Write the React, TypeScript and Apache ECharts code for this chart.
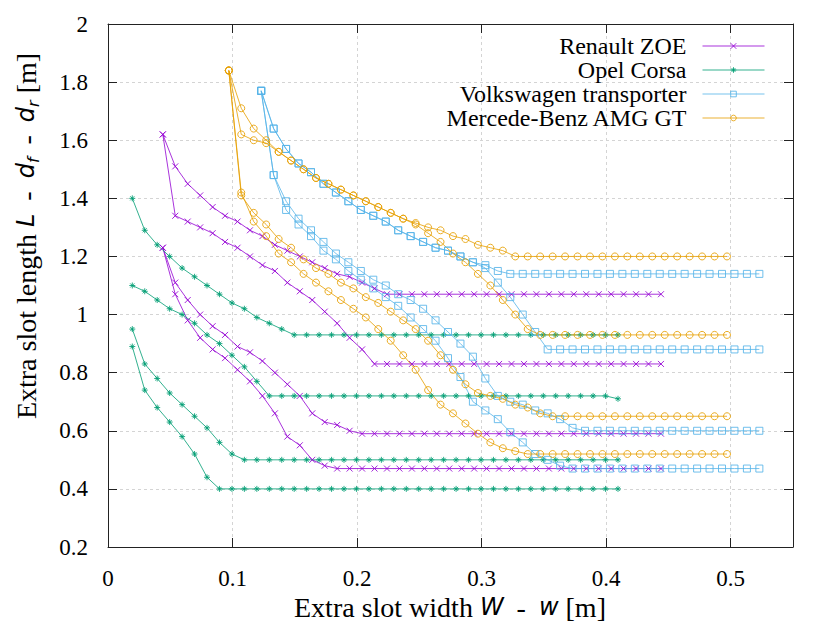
import React, { useEffect, useRef } from 'react';
import * as echarts from 'echarts';

// x grid: each curve starts at x0 and advances in steps of 0.01 m
const STEP = 0.01;
const renaultX0 = 0.044;
const opelX0 = 0.0195;
const vwX0 = 0.123;
const mercX0 = 0.097;

const names = ['Renault ZOE', 'Opel Corsa', 'Volkswagen transporter', 'Mercede-Benz AMG GT'];
const colors = ['#9400d3', '#009e73', '#56b4e9', '#e69f00'];

const xTicks = [0, 0.1, 0.2, 0.3, 0.4, 0.5];
const xTickLabels = ['0', '0.1', '0.2', '0.3', '0.4', '0.5'];
const yTicks = [0.2, 0.4, 0.6, 0.8, 1, 1.2, 1.4, 1.6, 1.8, 2];
const yTickLabels = ['0.2', '0.4', '0.6', '0.8', '1', '1.2', '1.4', '1.6', '1.8', '2'];

// Renault ZOE
const renault1 = [
  1.62, 1.51, 1.45, 1.41, 1.37, 1.34, 1.32, 1.29, 1.27, 1.24,
  1.22, 1.20, 1.18, 1.16, 1.14, 1.13, 1.11, 1.09, 1.07, 1.07,
  1.07, 1.07, 1.07, 1.07, 1.07, 1.07, 1.07, 1.07, 1.07, 1.07,
  1.07, 1.07, 1.07, 1.07, 1.07, 1.07, 1.07, 1.07, 1.07, 1.07,
  1.07,
];
const renault2 = [
  1.62, 1.34, 1.32, 1.30, 1.28, 1.25, 1.23, 1.20, 1.17, 1.15,
  1.11, 1.08, 1.05, 1.01, 0.97, 0.92, 0.88, 0.83, 0.83, 0.83,
  0.83, 0.83, 0.83, 0.83, 0.83, 0.83, 0.83, 0.83, 0.83, 0.83,
  0.83, 0.83, 0.83, 0.83, 0.83, 0.83, 0.83, 0.83, 0.83, 0.83,
  0.83,
];
const renault3 = [
  1.23, 1.11, 1.05, 1.00, 0.96, 0.93, 0.89, 0.87, 0.84, 0.80,
  0.76, 0.72, 0.66, 0.63, 0.62, 0.60, 0.59, 0.59, 0.59, 0.59,
  0.59, 0.59, 0.59, 0.59, 0.59, 0.59, 0.59, 0.59, 0.59, 0.59,
  0.59, 0.59, 0.59, 0.59, 0.59, 0.59, 0.59, 0.59, 0.59, 0.59,
  0.59,
];
const renault4 = [
  1.23, 1.07, 0.98, 0.92, 0.88, 0.85, 0.81, 0.77, 0.72, 0.66,
  0.58, 0.55, 0.50, 0.48, 0.47, 0.47, 0.47, 0.47, 0.47, 0.47,
  0.47, 0.47, 0.47, 0.47, 0.47, 0.47, 0.47, 0.47, 0.47, 0.47,
  0.47, 0.47, 0.47, 0.47, 0.47, 0.47, 0.47, 0.47, 0.47, 0.47,
  0.47,
];

// Opel Corsa
const opel1 = [
  1.40, 1.29, 1.24, 1.20, 1.16, 1.13, 1.10, 1.07, 1.04, 1.02,
  0.99, 0.97, 0.95, 0.93, 0.93, 0.93, 0.93, 0.93, 0.93, 0.93,
  0.93, 0.93, 0.93, 0.93, 0.93, 0.93, 0.93, 0.93, 0.93, 0.93,
  0.93, 0.93, 0.93, 0.93, 0.93, 0.93, 0.93, 0.93, 0.93, 0.93,
];
const opel2 = [
  1.10, 1.08, 1.05, 1.02, 1.00, 0.97, 0.93, 0.90, 0.86, 0.82,
  0.77, 0.72, 0.72, 0.72, 0.72, 0.72, 0.72, 0.72, 0.72, 0.72,
  0.72, 0.72, 0.72, 0.72, 0.72, 0.72, 0.72, 0.72, 0.72, 0.72,
  0.72, 0.72, 0.72, 0.72, 0.72, 0.72, 0.72, 0.72, 0.72, 0.71,
];
const opel3 = [
  0.95, 0.83, 0.78, 0.73, 0.69, 0.65, 0.61, 0.56, 0.52, 0.50,
  0.50, 0.50, 0.50, 0.50, 0.50, 0.50, 0.50, 0.50, 0.50, 0.50,
  0.50, 0.50, 0.50, 0.50, 0.50, 0.50, 0.50, 0.50, 0.50, 0.50,
  0.50, 0.50, 0.50, 0.50, 0.50, 0.50, 0.50, 0.50, 0.50, 0.50,
];
const opel4 = [
  0.89, 0.74, 0.68, 0.63, 0.58, 0.52, 0.44, 0.40, 0.40, 0.40,
  0.40, 0.40, 0.40, 0.40, 0.40, 0.40, 0.40, 0.40, 0.40, 0.40,
  0.40, 0.40, 0.40, 0.40, 0.40, 0.40, 0.40, 0.40, 0.40, 0.40,
  0.40, 0.40, 0.40, 0.40, 0.40, 0.40, 0.40, 0.40, 0.40, 0.40,
];

// Volkswagen transporter
const vw1 = [
  1.77, 1.64, 1.57, 1.52, 1.49, 1.45, 1.42, 1.39, 1.36, 1.34,
  1.32, 1.29, 1.27, 1.25, 1.23, 1.22, 1.20, 1.18, 1.17, 1.15,
  1.14, 1.14, 1.14, 1.14, 1.14, 1.14, 1.14, 1.14, 1.14, 1.14,
  1.14, 1.14, 1.14, 1.14, 1.14, 1.14, 1.14, 1.14, 1.14, 1.14,
  1.14,
];
const vw2 = [
  1.77, 1.64, 1.57, 1.52, 1.49, 1.45, 1.42, 1.39, 1.36, 1.34,
  1.32, 1.29, 1.27, 1.25, 1.23, 1.22, 1.20, 1.18, 1.16, 1.11,
  1.06, 1.00, 0.94, 0.88, 0.88, 0.88, 0.88, 0.88, 0.88, 0.88,
  0.88, 0.88, 0.88, 0.88, 0.88, 0.88, 0.88, 0.88, 0.88, 0.88,
  0.88,
];
const vw3 = [
  1.77, 1.48, 1.39, 1.33, 1.29, 1.25, 1.21, 1.18, 1.15, 1.12,
  1.10, 1.07, 1.05, 1.02, 0.98, 0.94, 0.90, 0.855, 0.78, 0.72,
  0.70, 0.69, 0.67, 0.66, 0.64, 0.61, 0.60, 0.60, 0.60, 0.60,
  0.60, 0.60, 0.60, 0.60, 0.60, 0.60, 0.60, 0.60, 0.60, 0.60,
  0.60,
];
const vw4 = [
  1.77, 1.48, 1.36, 1.31, 1.27, 1.22, 1.19, 1.15, 1.12, 1.09,
  1.06, 1.03, 0.99, 0.95, 0.91, 0.85, 0.785, 0.70, 0.67, 0.64,
  0.595, 0.56, 0.52, 0.50, 0.48, 0.47, 0.47, 0.47, 0.47, 0.47,
  0.47, 0.47, 0.47, 0.47, 0.47, 0.47, 0.47, 0.47, 0.47, 0.47,
  0.47,
];

// Mercede-Benz AMG GT
const merc1 = [
  1.84, 1.71, 1.64, 1.60, 1.56, 1.53, 1.50, 1.47, 1.45, 1.43,
  1.41, 1.39, 1.37, 1.35, 1.33, 1.315, 1.30, 1.29, 1.27, 1.26,
  1.24, 1.23, 1.22, 1.20, 1.20, 1.20, 1.20, 1.20, 1.20, 1.20,
  1.20, 1.20, 1.20, 1.20, 1.20, 1.20, 1.20, 1.20, 1.20, 1.20,
  1.20,
];
const merc2 = [
  1.84, 1.62, 1.60, 1.59, 1.56, 1.53, 1.50, 1.47, 1.45, 1.43,
  1.41, 1.39, 1.37, 1.35, 1.33, 1.31, 1.28, 1.25, 1.21, 1.18,
  1.14, 1.10, 1.05, 1.00, 0.95, 0.93, 0.93, 0.93, 0.93, 0.93,
  0.93, 0.93, 0.93, 0.93, 0.93, 0.93, 0.93, 0.93, 0.93, 0.93,
  0.93,
];
const merc3 = [
  1.84, 1.41, 1.35, 1.31, 1.26, 1.23, 1.19, 1.16, 1.14, 1.11,
  1.09, 1.06, 1.04, 1.01, 0.98, 0.95, 0.91, 0.86, 0.81, 0.76,
  0.73, 0.72, 0.71, 0.69, 0.68, 0.66, 0.65, 0.65, 0.65, 0.65,
  0.65, 0.65, 0.65, 0.65, 0.65, 0.65, 0.65, 0.65, 0.65, 0.65,
  0.65,
];
const merc4 = [
  1.84, 1.42, 1.32, 1.27, 1.21, 1.18, 1.14, 1.11, 1.08, 1.05,
  1.02, 0.99, 0.95, 0.91, 0.86, 0.81, 0.74, 0.69, 0.66, 0.625,
  0.59, 0.56, 0.54, 0.53, 0.52, 0.52, 0.52, 0.52, 0.52, 0.52,
  0.52, 0.52, 0.52, 0.52, 0.52, 0.52, 0.52, 0.52, 0.52, 0.52,
  0.52,
];

const crossSym = 'path://M0,0L10,10M10,0L0,10';
const starSym = 'path://M5,0L5,10M0,5L10,5M1.6,1.6L8.4,8.4M8.4,1.6L1.6,8.4';

const cars = [
  { name: names[0], color: colors[0], symbol: crossSym, size: 6, x0: renaultX0, curves: [renault1, renault2, renault3, renault4] },
  { name: names[1], color: colors[1], symbol: starSym, size: 6, x0: opelX0, curves: [opel1, opel2, opel3, opel4] },
  { name: names[2], color: colors[2], symbol: 'rect', size: 7, x0: vwX0, curves: [vw1, vw2, vw3, vw4] },
  { name: names[3], color: colors[3], symbol: 'circle', size: 7, x0: mercX0, curves: [merc1, merc2, merc3, merc4] },
];

const SERIF = 'Liberation Serif';
const MATH = 'DejaVu Sans';

export default function App() {
  const ref = useRef<HTMLDivElement>(null);
  useEffect(() => {
    if (!ref.current) return;
    const chart = echarts.init(ref.current, undefined, { renderer: 'svg' });

    const series: any[] = [];
    cars.forEach((car) => {
      const open = car.symbol === 'rect' || car.symbol === 'circle';
      car.curves.forEach((ys) => {
        series.push({
          type: 'line',
          name: car.name,
          data: ys.map((y, i) => [Number((car.x0 + STEP * i).toFixed(4)), y]),
          symbol: car.symbol,
          symbolSize: car.size,
          showSymbol: true,
          lineStyle: { color: car.color, width: 1, opacity: 0.8 },
          itemStyle: {
            color: open ? 'rgba(255,255,255,0)' : car.color,
            borderColor: car.color,
            borderWidth: 1,
            opacity: 0.85,
          },
          emphasis: { disabled: true },
          silent: true,
          z: 3,
        });
      });
    });

    const axisLine = { show: true, onZero: false, lineStyle: { color: '#222', width: 1 } };
    const tick = { show: true, inside: true, length: 9, lineStyle: { color: '#222', width: 1 } };
    const split = { show: true, lineStyle: { color: '#d4d4d4', width: 1, type: [3, 3] } };

    const serifTok = { fontFamily: SERIF, fontSize: 28, fill: '#000', lineHeight: 30 };
    const mathTok = { fontFamily: MATH, fontStyle: 'italic', fontSize: 24, fill: '#000', lineHeight: 30 };
    const dashTok = { fontFamily: SERIF, fontSize: 28, fill: '#000', lineHeight: 30, padding: [0, 6, 0, 6] };
    const subTok = { fontFamily: MATH, fontStyle: 'italic', fontSize: 16, fill: '#000', lineHeight: 14, verticalAlign: 'bottom' };

    const titles = [
      {
        type: 'text', id: 'xtitle', x: 450, y: 607,
        style: {
          text: '{a|Extra slot width }{b|W}{a| }{m|-}{a| }{b|w}{a| [m]}',
          align: 'center', verticalAlign: 'middle',
          rich: { a: serifTok, b: mathTok, m: dashTok },
        },
      },
      {
        type: 'text', id: 'ytitle', x: 26, y: 236, rotation: Math.PI / 2,
        style: {
          text: '{a|Extra slot length }{b|L}{a| }{m|-}{a| }{b|d}{s|f}{a| }{m|-}{a| }{b|d}{s|r}{a| [m]}',
          align: 'center', verticalAlign: 'middle',
          rich: { a: serifTok, b: mathTok, m: dashTok, s: subTok },
        },
      },
    ];

    chart.setOption({
      animation: false,
      backgroundColor: '#fff',
      textStyle: { fontFamily: SERIF, color: '#000' },
      grid: { left: 108, top: 24, right: 37, bottom: 76, containLabel: false },
      xAxis: [
        {
          type: 'value', min: xTicks[0], max: 0.55, interval: 0.1, position: 'bottom',
          axisLine, axisTick: tick, axisLabel: { show: false }, splitLine: split,
        },
        {
          type: 'value', min: xTicks[0], max: 0.55, interval: 0.1, position: 'top',
          axisLine, axisTick: tick, axisLabel: { show: false }, splitLine: { show: false },
        },
      ],
      yAxis: [
        {
          type: 'value', min: yTicks[0], max: yTicks[yTicks.length - 1], interval: 0.2, position: 'left',
          axisLine, axisTick: tick, axisLabel: { show: false }, splitLine: split,
        },
        {
          type: 'value', min: yTicks[0], max: yTicks[yTicks.length - 1], interval: 0.2, position: 'right',
          axisLine, axisTick: tick, axisLabel: { show: false }, splitLine: { show: false },
        },
      ],
      legend: {
        data: names,
        orient: 'vertical',
        right: 60,
        top: 29,
        align: 'right',
        itemWidth: 62,
        itemHeight: 7,
        itemGap: 0,
        selectedMode: false,
        lineStyle: { width: 1 },
        itemStyle: { borderWidth: 1 },
        textStyle: { fontFamily: SERIF, fontSize: 24, color: '#000', lineHeight: 24, padding: [0, 11, 0, 0] },
      },
      graphic: titles,
      series,
    });

    // tick labels placed through the axes' own scales
    const labelStyle = { fontFamily: SERIF, fontSize: 23, fill: '#000' };
    const xLabels = xTicks.map((v, i) => ({
      type: 'text', id: 'xl' + i,
      x: chart.convertToPixel({ xAxisIndex: 0 }, v) as number,
      y: 578,
      style: { ...labelStyle, text: xTickLabels[i], align: 'center', verticalAlign: 'middle' },
    }));
    const yLabels = yTicks.map((v, i) => ({
      type: 'text', id: 'yl' + i,
      x: 88,
      y: chart.convertToPixel({ yAxisIndex: 0 }, v) as number,
      style: { ...labelStyle, text: yTickLabels[i], align: 'right', verticalAlign: 'middle' },
    }));
    chart.setOption({ graphic: [...titles, ...xLabels, ...yLabels] });

    return () => chart.dispose();
  }, []);
  return <div ref={ref} style={{ position: 'fixed', left: 0, top: 0, width: 830, height: 623 }} />;
}
